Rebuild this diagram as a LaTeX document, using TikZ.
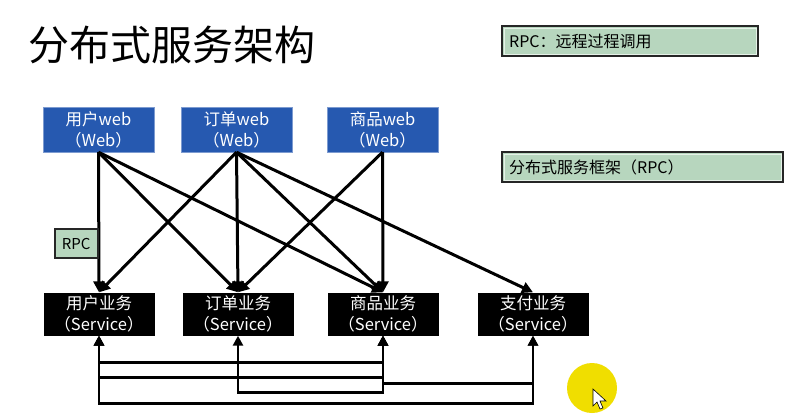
\documentclass[tikz,border=0pt]{standalone}
\usepackage{fontspec}
\setmainfont{Noto Sans CJK SC}
\usetikzlibrary{arrows.meta,calc,positioning}
\definecolor{webblue}{RGB}{38,89,176}
\definecolor{noteg}{RGB}{183,214,190}
\definecolor{cursory}{RGB}{240,222,0}
\tikzset{
  webbox/.style={draw=webblue!60!white, fill=webblue, text=white, minimum width=111pt,
    minimum height=45pt, align=center, inner sep=1pt, font=\fontsize{16.5}{21}\selectfont},
  svcbox/.style={fill=black, text=white, minimum width=111pt, minimum height=43pt,
    align=center, inner sep=1pt, font=\fontsize{16.5}{21}\selectfont},
  link/.style={line width=3pt, -{Triangle[length=11pt,width=11pt]}},
  biarr/.style={line width=2.8pt, {Triangle[length=10pt,width=10pt]}-{Triangle[length=10pt,width=10pt]}},
  notebox/.style={draw=black!85, line width=2.2pt, fill=noteg, inner xsep=7pt, inner ysep=0pt,
    minimum height=30pt, align=left, font=\fontsize{16}{19}\selectfont,
    path picture={\draw[line width=0.8pt, white!65!noteg]
      ([shift={(2pt,-2pt)}]path picture bounding box.north west) rectangle
      ([shift={(-2pt,2pt)}]path picture bounding box.south east);}},
  rpcbox/.style={draw=black!85, line width=2pt, fill=noteg, minimum width=43pt,
    minimum height=29pt, inner sep=1pt, font=\fontsize{15}{18}\selectfont}
}
\begin{document}
\begin{tikzpicture}[x=1pt,y=-1pt]
    \fill[white] (0,0) rectangle (801,415);
    \useasboundingbox (0,0) rectangle (801,415);
    \node[anchor=west, inner sep=0pt, font=\fontsize{41}{48}\selectfont] (title) at (28,45) {分布式服务架构};
    % notes on the right
    \node[notebox, anchor=north west, text width=242pt] (note1) at (501,25) {RPC：远程过程调用};
    \node[notebox, anchor=north west, text width=267pt] (note2) at (501,151) {分布式服务框架（RPC）};
    % web layer
    \node[webbox] (uweb) at (98.5,129.5) {用户web\\（Web）};
    \node[webbox] (dweb) at (236.5,129.5) {订单web\\（Web）};
    \node[webbox] (gweb) at (382.5,129.5) {商品web\\（Web）};
    % service layer
    \node[svcbox] (usvc) at (99,314) {用户业务\\（Service）};
    \node[svcbox] (dsvc) at (238,314) {订单业务\\（Service）};
    \node[svcbox] (gsvc) at (383,314) {商品业务\\（Service）};
    \node[svcbox] (zsvc) at (533,314) {支付业务\\（Service）};
    % web -> service
    \draw[link] (uweb.south) -- (usvc.north);
    \draw[link] (uweb.south) -- (dsvc.north);
    \draw[link] (uweb.south) -- (gsvc.north);
    \draw[link] (dweb.south) -- (usvc.north);
    \draw[link] (dweb.south) -- (dsvc.north);
    \draw[link] (dweb.south) -- (gsvc.north);
    \draw[link] (dweb.south) -- (zsvc.north);
    \draw[link] (gweb.south) -- (dsvc.north);
    \draw[link] (gweb.south) -- (gsvc.north);
    \node[rpcbox, anchor=east] (rpc) at ($(uweb.south)!0.5!(usvc.south)$) {RPC};
    % service <-> service
    \draw[biarr] (usvc.south) -- ++(0,26.5) -| (gsvc.south);
    \draw[biarr] (usvc.south) -- ++(0,41.5) -| (gsvc.south);
    \draw[biarr] (gsvc.south) -- ++(0,47.5) -| (zsvc.south);
    \draw[biarr] (dsvc.south) -- ++(0,56.5) -| (gsvc.south);
    \draw[biarr] (usvc.south) -- ++(0,67.5) -| (zsvc.south);
    % cursor
    \fill[cursory] (592,388) circle (25);
    \draw[fill=white, line width=0.6pt] (593,389) -- (593,406) -- (597,402) -- (600,409)
      -- (603,408) -- (600,401) -- (606,401) -- cycle;
\end{tikzpicture}
\end{document}
